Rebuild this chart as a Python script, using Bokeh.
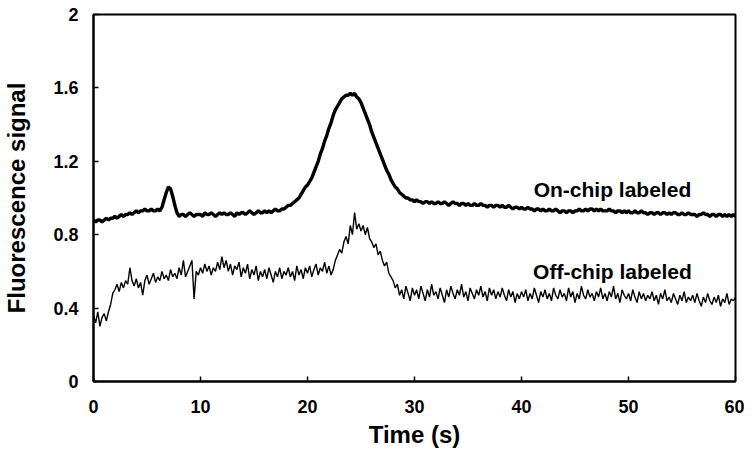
from bokeh.plotting import figure
from bokeh.models import Range1d, FixedTicker, NumeralTickFormatter, ColumnDataSource
from bokeh.core.properties import value
from bokeh.embed import file_html
from bokeh.resources import INLINE

# Sampling times (s), every 0.2 s from 0 to 60
time_s = [round(0.2 * i, 1) for i in range(301)]

on_chip = [
    0.88, 0.87, 0.88, 0.88, 0.87, 0.88, 0.89, 0.88, 0.89, 0.89,
    0.90, 0.89, 0.90, 0.91, 0.90, 0.91, 0.91, 0.92, 0.91, 0.92,
    0.93, 0.92, 0.93, 0.93, 0.94, 0.93, 0.93, 0.94, 0.93, 0.93,
    0.94, 0.93, 0.95, 0.99, 1.03, 1.06, 1.05, 1.01, 0.96, 0.92,
    0.90, 0.91, 0.91, 0.90, 0.91, 0.92, 0.91, 0.90, 0.91, 0.91,
    0.91, 0.90, 0.92, 0.91, 0.91, 0.92, 0.91, 0.90, 0.91, 0.92,
    0.91, 0.92, 0.91, 0.91, 0.92, 0.91, 0.90, 0.92, 0.91, 0.92,
    0.92, 0.91, 0.92, 0.93, 0.92, 0.91, 0.92, 0.93, 0.92, 0.92,
    0.93, 0.92, 0.93, 0.92, 0.93, 0.94, 0.93, 0.93, 0.94, 0.94,
    0.95, 0.96, 0.96, 0.97, 0.98, 0.99, 1.00, 1.02, 1.04, 1.06,
    1.07, 1.09, 1.11, 1.14, 1.17, 1.20, 1.24, 1.27, 1.31, 1.34,
    1.38, 1.41, 1.45, 1.48, 1.50, 1.52, 1.54, 1.55, 1.56, 1.56,
    1.57, 1.56, 1.57, 1.55, 1.54, 1.52, 1.49, 1.46, 1.43, 1.40,
    1.36, 1.33, 1.30, 1.27, 1.24, 1.21, 1.18, 1.15, 1.13, 1.10,
    1.08, 1.06, 1.05, 1.03, 1.02, 1.01, 1.00, 1.00, 0.99, 0.99,
    0.98, 0.99, 0.98, 0.98, 0.97, 0.98, 0.98, 0.97, 0.98, 0.97,
    0.97, 0.98, 0.97, 0.97, 0.98, 0.97, 0.96, 0.97, 0.98, 0.97,
    0.97, 0.96, 0.97, 0.97, 0.96, 0.97, 0.96, 0.96, 0.97, 0.96,
    0.96, 0.97, 0.96, 0.96, 0.95, 0.96, 0.96, 0.95, 0.96, 0.96,
    0.95, 0.96, 0.95, 0.95, 0.96, 0.95, 0.94, 0.95, 0.95, 0.94,
    0.95, 0.94, 0.94, 0.95, 0.94, 0.94, 0.93, 0.94, 0.94, 0.93,
    0.94, 0.93, 0.93, 0.94, 0.93, 0.93, 0.94, 0.93, 0.92, 0.93,
    0.93, 0.92, 0.93, 0.93, 0.92, 0.93, 0.93, 0.94, 0.93, 0.93,
    0.94, 0.93, 0.94, 0.94, 0.93, 0.94, 0.93, 0.94, 0.93, 0.93,
    0.93, 0.94, 0.93, 0.93, 0.92, 0.93, 0.93, 0.92, 0.93, 0.92,
    0.93, 0.92, 0.92, 0.93, 0.92, 0.92, 0.93, 0.92, 0.92, 0.91,
    0.92, 0.92, 0.91, 0.92, 0.92, 0.91, 0.92, 0.92, 0.91, 0.92,
    0.91, 0.92, 0.92, 0.91, 0.91, 0.92, 0.91, 0.91, 0.92, 0.91,
    0.91, 0.91, 0.90, 0.91, 0.91, 0.92, 0.91, 0.91, 0.90, 0.91,
    0.91, 0.90, 0.91, 0.91, 0.90, 0.91, 0.90, 0.91, 0.90, 0.91,
    0.90,
]

off_chip = [
    0.36, 0.32, 0.38, 0.30, 0.35, 0.37, 0.33, 0.38, 0.42, 0.48,
    0.50, 0.53, 0.49, 0.54, 0.51, 0.55, 0.53, 0.62, 0.55, 0.52,
    0.56, 0.51, 0.54, 0.47, 0.55, 0.58, 0.53, 0.56, 0.59, 0.54,
    0.57, 0.55, 0.60, 0.56, 0.58, 0.55, 0.61, 0.57, 0.59, 0.56,
    0.62, 0.58, 0.66, 0.57, 0.60, 0.63, 0.66, 0.45, 0.60, 0.58,
    0.62, 0.59, 0.64, 0.60, 0.63, 0.58, 0.62, 0.60, 0.65, 0.61,
    0.68, 0.62, 0.66, 0.60, 0.64, 0.58, 0.63, 0.61, 0.65, 0.57,
    0.62, 0.59, 0.64, 0.56, 0.61, 0.58, 0.63, 0.55, 0.60, 0.57,
    0.61, 0.56, 0.62, 0.58, 0.54, 0.60, 0.57, 0.62, 0.56, 0.60,
    0.58, 0.62, 0.57, 0.60, 0.55, 0.63, 0.58, 0.61, 0.56, 0.62,
    0.59, 0.63, 0.57, 0.61, 0.64, 0.58, 0.62, 0.60, 0.65, 0.59,
    0.63, 0.58, 0.61, 0.66, 0.69, 0.72, 0.70, 0.76, 0.79, 0.75,
    0.85, 0.80, 0.92, 0.83, 0.86, 0.82, 0.85, 0.80, 0.84, 0.78,
    0.76, 0.73, 0.75, 0.69, 0.71, 0.66, 0.63, 0.65, 0.59, 0.57,
    0.55, 0.51, 0.53, 0.47, 0.50, 0.45, 0.52, 0.48, 0.44, 0.51,
    0.47, 0.50, 0.45, 0.52, 0.48, 0.44, 0.50, 0.46, 0.53, 0.47,
    0.49, 0.45, 0.51, 0.47, 0.43, 0.50, 0.46, 0.52, 0.48, 0.45,
    0.50, 0.47, 0.53, 0.46, 0.49, 0.44, 0.51, 0.48, 0.45, 0.50,
    0.47, 0.52, 0.46, 0.49, 0.44, 0.51, 0.47, 0.50, 0.45, 0.49,
    0.46, 0.51, 0.47, 0.44, 0.50, 0.46, 0.49, 0.43, 0.48, 0.45,
    0.49, 0.46, 0.50, 0.44, 0.48, 0.45, 0.51, 0.47, 0.43, 0.49,
    0.46, 0.50, 0.45, 0.48, 0.44, 0.51, 0.47, 0.45, 0.50, 0.46,
    0.48, 0.44, 0.51, 0.46, 0.49, 0.43, 0.48, 0.45, 0.52, 0.47,
    0.45, 0.50, 0.46, 0.48, 0.44, 0.49, 0.46, 0.51, 0.45, 0.48,
    0.44, 0.49, 0.46, 0.52, 0.45, 0.48, 0.43, 0.50, 0.47, 0.45,
    0.48, 0.44, 0.50, 0.46, 0.43, 0.49, 0.45, 0.48, 0.44, 0.47,
    0.45, 0.49, 0.44, 0.47, 0.42, 0.48, 0.45, 0.50, 0.44, 0.46,
    0.43, 0.48, 0.45, 0.42, 0.47, 0.44, 0.49, 0.43, 0.46, 0.44,
    0.47, 0.43, 0.48, 0.44, 0.41, 0.46, 0.43, 0.48, 0.44, 0.42,
    0.46, 0.43, 0.47, 0.41, 0.45, 0.43, 0.48, 0.42, 0.45, 0.44,
    0.46,
]

x_ticks = [0, 10, 20, 30, 40, 50, 60]
y_ticks = [0, 0.4, 0.8, 1.2, 1.6, 2.0]

label_names = ["On-chip labeled", "Off-chip labeled"]
label_x = [48.5, 48.5]
label_y = [1.048, 0.597]

FONT = "Liberation Sans"

p = figure(width=744, height=450, output_backend="svg", toolbar_location=None,
           x_range=Range1d(0, 60), y_range=Range1d(0, 2),
           min_border_left=93, min_border_right=9, min_border_top=14, min_border_bottom=68)

p.xgrid.visible = False
p.ygrid.visible = False
p.background_fill_color = "white"
p.border_fill_color = "white"
p.outline_line_color = "black"
p.outline_line_width = 2
p.outline_line_alpha = 1

src = ColumnDataSource(dict(t=time_s, on=on_chip, off=off_chip))
p.line("t", "on", source=src, line_color="black", line_width=3.4)
p.line("t", "off", source=src, line_color="black", line_width=1.4)

lab = ColumnDataSource(dict(x=label_x, y=label_y, text=label_names))
p.text("x", "y", text="text", source=lab, text_align="center", text_baseline="alphabetic",
       text_font=value(FONT), text_font_style="bold", text_font_size="21px", text_color="black")

for ax in (p.xaxis[0], p.yaxis[0]):
    ax.axis_line_width = 2
    ax.axis_line_color = "black"
    ax.major_tick_in = 5
    ax.major_tick_out = 0
    ax.major_tick_line_width = 1.5
    ax.minor_tick_line_color = None
    ax.major_label_text_font = FONT
    ax.major_label_text_font_style = "bold"
    ax.major_label_text_font_size = "18px"
    ax.major_label_text_color = "black"
    ax.axis_label_text_font = FONT
    ax.axis_label_text_font_style = "bold"
    ax.axis_label_text_font_size = "24px"
    ax.axis_label_text_color = "black"

p.xaxis.ticker = FixedTicker(ticks=x_ticks)
p.yaxis.ticker = FixedTicker(ticks=y_ticks)
p.yaxis.formatter = NumeralTickFormatter(format="0.[0]")
p.xaxis.axis_label = "Time (s)"
p.yaxis.axis_label = "Fluorescence signal"
p.xaxis.major_label_standoff = 18
p.yaxis.major_label_standoff = 15
p.xaxis.axis_label_standoff = 5
p.yaxis.axis_label_standoff = 20

open("out.html", "w").write(file_html(p, INLINE))
